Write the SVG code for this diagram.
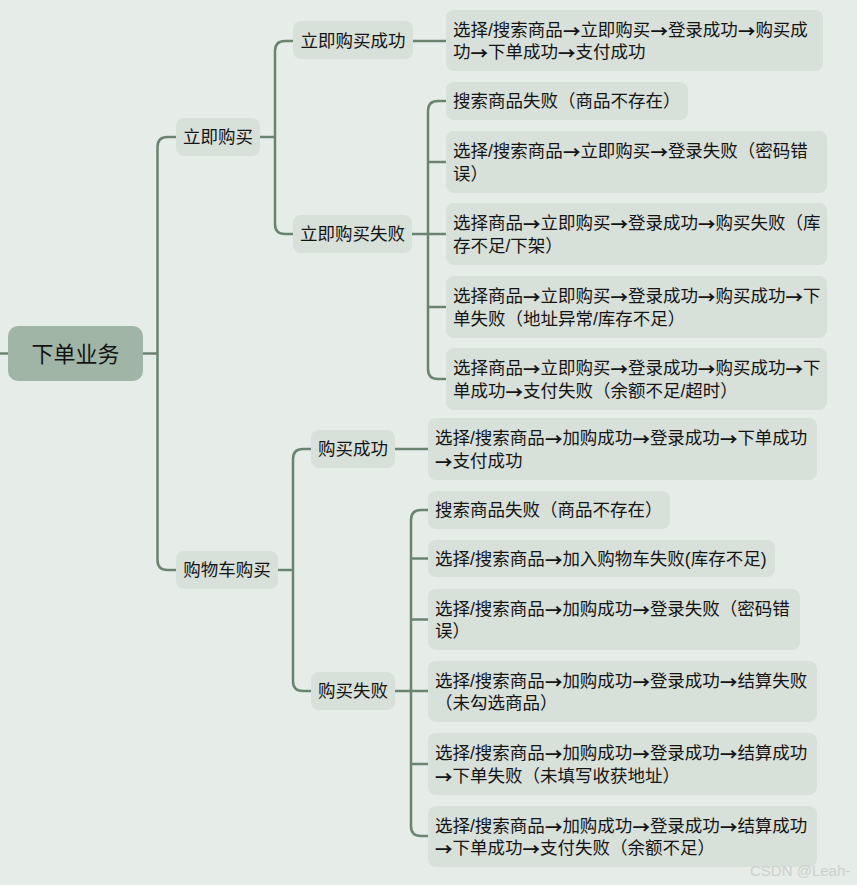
<svg xmlns="http://www.w3.org/2000/svg" width="857" height="885" viewBox="0 0 857 885">
<style>
.bg{fill:#e6ece8}
.n rect{fill:#d8e0da}
.root rect{fill:#a0b5a5}
text{font-family:'Liberation Sans','Noto Sans CJK SC',sans-serif;font-size:17.5px;fill:#141414;dominant-baseline:central}
.ar{font-family:'Noto Sans CJK SC','Liberation Sans',sans-serif;font-weight:bold}
.c text{text-anchor:middle}
.root text{font-size:22px;text-anchor:middle}
.lines path{fill:none;stroke:#6a8470;stroke-width:2.5}
.wm{font-size:15px;fill:#ccd0cd;font-family:'Liberation Sans',sans-serif}
</style>
<rect class="bg" x="0" y="0" width="857" height="885"/>
<g class="lines">
<path d="M0,353.5 H8"/>
<path d="M143,353.5 H157.5"/>
<path d="M176,137 H167.5 Q157.5,137 157.5,147 V560 Q157.5,570 167.5,570 H176"/>
<path d="M260,137 H275"/>
<path d="M293,41 H285 Q275,41 275,51 V224 Q275,234 285,234 H293"/>
<path d="M413,41 H446"/>
<path d="M412,234 H446"/>
<path d="M446,101 H438 Q428,101 428,111 V369 Q428,379 438,379 H446"/>
<path d="M428,162 H446"/>
<path d="M428,307 H446"/>
<path d="M278,570 H293"/>
<path d="M311,449 H303 Q293,449 293,459 V681 Q293,691 303,691 H311"/>
<path d="M395,449 H428"/>
<path d="M395,691 H428"/>
<path d="M428,510 H421 Q411,510 411,520 V826 Q411,836 421,836 H428"/>
<path d="M411,558.5 H428"/>
<path d="M411,619.5 H428"/>
<path d="M411,764 H428"/>
</g>
<g id="root" class="root c"><rect x="8" y="326" width="135" height="55" rx="10"/><text x="75.5" y="354">下单业务</text></g>
<g id="n-lijigoumai" class="n c"><rect x="176" y="118" width="84" height="38" rx="8"/><text x="218" y="137">立即购买</text></g>
<g id="n-gouwuche" class="n c"><rect x="176" y="551" width="102" height="38" rx="8"/><text x="227" y="570">购物车购买</text></g>
<g id="n-ljcg" class="n c"><rect x="293" y="21" width="120" height="38" rx="8"/><text x="353" y="40.5">立即购买成功</text></g>
<g id="n-ljsb" class="n c"><rect x="293" y="215" width="119" height="38" rx="8"/><text x="352.5" y="234">立即购买失败</text></g>
<g id="n-gmcg" class="n c"><rect x="311" y="430" width="84" height="38" rx="8"/><text x="353" y="449">购买成功</text></g>
<g id="n-gmsb" class="n c"><rect x="311" y="672" width="84" height="38" rx="8"/><text x="353" y="691">购买失败</text></g>
<g id="a1" class="n"><rect x="446" y="10" width="377" height="61" rx="8"/><text x="453" y="29.5">选择/搜索商品<tspan class="ar">→</tspan>立即购买<tspan class="ar">→</tspan>登录成功<tspan class="ar">→</tspan>购买成</text><text x="453" y="52">功<tspan class="ar">→</tspan>下单成功<tspan class="ar">→</tspan>支付成功</text></g>
<g id="a2" class="n"><rect x="446" y="82" width="242" height="38" rx="8"/><text x="453" y="101">搜索商品失败（商品不存在）</text></g>
<g id="a3" class="n"><rect x="446" y="131" width="381" height="62" rx="8"/><text x="453" y="151">选择/搜索商品<tspan class="ar">→</tspan>立即购买<tspan class="ar">→</tspan>登录失败（密码错</text><text x="453" y="173.5">误）</text></g>
<g id="a4" class="n"><rect x="446" y="203" width="381" height="62" rx="8"/><text x="453" y="223">选择商品<tspan class="ar">→</tspan>立即购买<tspan class="ar">→</tspan>登录成功<tspan class="ar">→</tspan>购买失败（库</text><text x="453" y="245.5">存不足/下架）</text></g>
<g id="a5" class="n"><rect x="446" y="276" width="381" height="62" rx="8"/><text x="453" y="296">选择商品<tspan class="ar">→</tspan>立即购买<tspan class="ar">→</tspan>登录成功<tspan class="ar">→</tspan>购买成功<tspan class="ar">→</tspan>下</text><text x="453" y="318.5">单失败（地址异常/库存不足）</text></g>
<g id="a6" class="n"><rect x="446" y="348" width="381" height="62" rx="8"/><text x="453" y="368">选择商品<tspan class="ar">→</tspan>立即购买<tspan class="ar">→</tspan>登录成功<tspan class="ar">→</tspan>购买成功<tspan class="ar">→</tspan>下</text><text x="453" y="390.5">单成功<tspan class="ar">→</tspan>支付失败（余额不足/超时）</text></g>
<g id="b1" class="n"><rect x="428" y="418" width="389" height="62" rx="8"/><text x="435" y="438">选择/搜索商品<tspan class="ar">→</tspan>加购成功<tspan class="ar">→</tspan>登录成功<tspan class="ar">→</tspan>下单成功</text><text x="435" y="460.5"><tspan class="ar">→</tspan>支付成功</text></g>
<g id="b2" class="n"><rect x="428" y="491" width="242" height="38" rx="8"/><text x="435" y="510">搜索商品失败（商品不存在）</text></g>
<g id="b3" class="n"><rect x="428" y="540" width="347" height="37" rx="8"/><text x="435" y="558.5">选择/搜索商品<tspan class="ar">→</tspan>加入购物车失败(库存不足)</text></g>
<g id="b4" class="n"><rect x="428" y="589" width="372" height="61" rx="8"/><text x="435" y="608.5">选择/搜索商品<tspan class="ar">→</tspan>加购成功<tspan class="ar">→</tspan>登录失败（密码错</text><text x="435" y="631">误）</text></g>
<g id="b5" class="n"><rect x="428" y="661" width="389" height="61" rx="8"/><text x="435" y="680.5">选择/搜索商品<tspan class="ar">→</tspan>加购成功<tspan class="ar">→</tspan>登录成功<tspan class="ar">→</tspan>结算失败</text><text x="435" y="703">（未勾选商品）</text></g>
<g id="b6" class="n"><rect x="428" y="733" width="389" height="62" rx="8"/><text x="435" y="753">选择/搜索商品<tspan class="ar">→</tspan>加购成功<tspan class="ar">→</tspan>登录成功<tspan class="ar">→</tspan>结算成功</text><text x="435" y="775.5"><tspan class="ar">→</tspan>下单失败（未填写收获地址）</text></g>
<g id="b7" class="n"><rect x="428" y="806" width="389" height="61" rx="8"/><text x="435" y="825.5">选择/搜索商品<tspan class="ar">→</tspan>加购成功<tspan class="ar">→</tspan>登录成功<tspan class="ar">→</tspan>结算成功</text><text x="435" y="848"><tspan class="ar">→</tspan>下单成功<tspan class="ar">→</tspan>支付失败（余额不足）</text></g>
<text class="wm" x="750" y="870">CSDN @Leah-</text>
</svg>
